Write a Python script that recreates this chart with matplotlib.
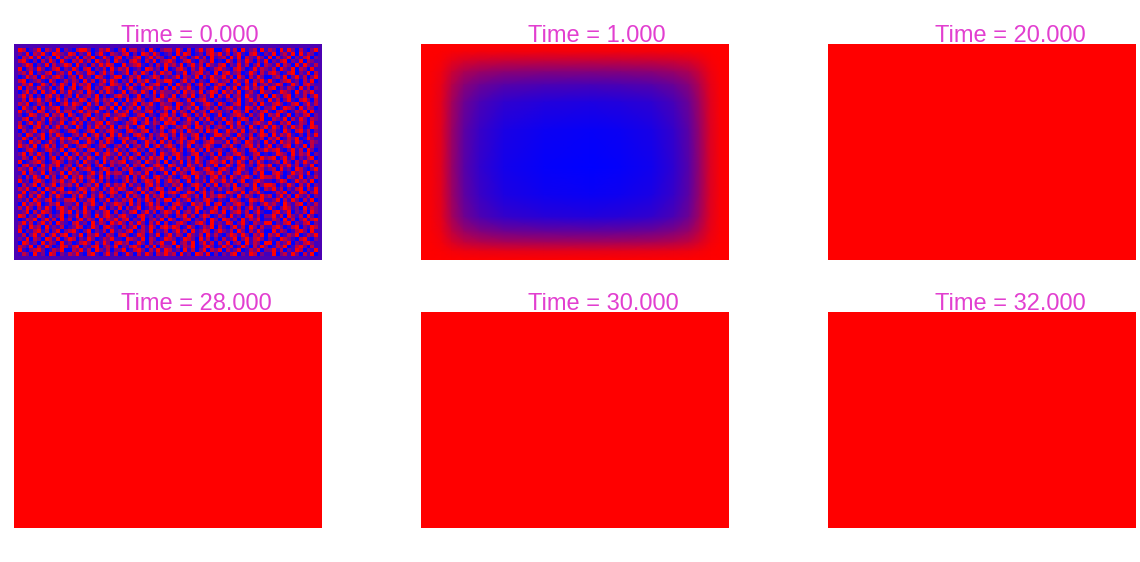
import numpy as np
import matplotlib
matplotlib.use('Agg')
import matplotlib.pyplot as plt
from matplotlib.colors import LinearSegmentedColormap

plt.rcParams['font.family'] = ['Liberation Sans', 'DejaVu Sans']

# snapshot times shown in the titles
times = [0.0, 1.0, 20.0, 28.0, 30.0, 32.0]

# t = 0: cell levels (0 = blue ... 4 = red), interior cells only
t0_rows = [
    "4301240321402 1034420132410 2403312041023 3142030241340 0241304123041 3204142031024",
    "2140324104321 4302140241032 1340204314201 2041430120342 4130241034102 1402314041320",
    "0324140230413 2140324014203 4021340241320 1403202413041 2304140321420 4031240213402",
    "3410203142041 0324130421304 2103420314023 4201341032140 1042031420314 0213402140321",
    "1243021403124 3041203142430 0412341020314 2314024130421 3402141302403 2140320414213",
    "4023142013402 1420340213041 3240120431204 0134203142013 4210342014132 1304214032041",
    "2314021340231 4032143024130 1240314203142 3021402341204 0341230142031 3420134021403",
    "0142304213420 2304120431024 4013240124302 1240321403142 2413042031420 0231402413024",
    "3401231042013 1320413024142 0214032410324 4102413021043 1230421403241 4102341203140",
    "1324014203142 0413240132043 2140314023410 3042130241302 4301240314023 1243014203421",
    "4032142130240 2401340213421 3024102341203 0413241032014 2031402413240 3402132041302",
    "0241304124031 4123042031420 1402314204132 2130423140243 0423140231042 2014320413241",
    "2413020341302 3041231402013 4230140213042 1402314023140 3140230421304 0421340213024",
    "1304241320413 0214302413240 2041342013421 4320140234102 1023140241320 4130241034203",
    "3240132041024 1432041302314 0312403241032 2043124013420 4201340213041 1342013402413",
    "0421304123402 2310421043140 4023140321024 3140231402313 0234120431402 2401432041320",
    "4132043021413 3024132410204 1240321340213 0413204123042 3120431402134 1034201324041",
    "2014312403240 4201340213412 3420134021034 1302420314201 4012342031240 3240140213402",
    "1340213042132 0241304213024 2103421403142 4230142031402 1413024302140 0321403142032",
    "3024142031240 2413021340421 0132402413204 3401231402130 2043140213421 4103240132041",
    "4210341302413 1042031423140 3241034012042 0132420431302 3204132041024 1420314230143",
    "0312402143201 3420134021342 1034213402130 2413042130424 0142314023140 2310420341302",
    "2043124031420 0231402413041 4120342031243 1304213402014 4231042130243 0413241020314",
    "1420314023142 4103241302430 2341024130214 0214302413041 1302413042130 3240132401421",
    "3104230142031 2340142031420 0412301423041 3024134102342 2140320431204 1304231420132",
    "4231402413024 1023420134102 3140231402413 4203140213420 0324102341302 4021340214031",
    "0134201342140 3412034120314 1203412043021 2413024130412 3102412034124 2341024130420",
    "2403142031204 0241320413421 4130240213042 1342013402130 4021342013401 0143204132402",
    "1320413024031 4203142014213 0314203142340 3042130421024 1234014203142 3402413021340",
    "4012342013420 2130421304132 3401230421304 0214031420243 2403142031420 1230420314213",
    "0341204132402 3024130241031 2140324013420 4312042130214 0142034120342 4013241302140",
    "3214023140213 1402341024302 0324102341241 2041324013420 3420143102431 2304120431024",
    "1403214032140 4231024130423 3104231402014 0413204321342 4120341203140 0342014231402",
    "2031420413024 0324132041302 1240314203421 3102430412034 1304213420143 3241032140213",
    "4120342013241 2413024130201 0241302431402 4230140213042 2413024013421 1024301423140",
    "0312403124032 3140231402413 2403120341302 1324013420314 0231402314024 4302142031402",
    "3241030421340 1024314203142 4310241302430 2043120413021 3120432014203 2413021340314",
    "1402314024132 4231402130243 0134204132041 3420143024130 1043214032410 0132402143024",
    "4203142031420 0314203142031 2041320413240 1203421304132 4312041320142 3024130421302",
    "2130421340213 3402134021402 1324031420314 4031240213420 2104320143241 1240314203140",
    "0413240132402 2140324103124 3204130241302 0342104231403 4021342031024 2310421340213",
    "3142031420342 1320412043021 4031240132430 2413021430124 0324130241302 4102431204132",
    "1240314320142 4031420213403 0213402413024 3140231402143 1402341302410 0341240213042",
    "4302142031240 2140320413421 3421034120213 1032413024301 3204120341302 2413042130420",
    "0132402413041 3024132041324 1340214023140 4201340213042 0431204132401 1320413024134",
    "2413024130421 0341204132042 4203142031403 0134201342041 2143024103214 4021340213402",
    "3104230412130 1243014203421 0312403142034 2430142013240 3102413042031 1342013402143",
    "4021341302402 3410240213041 2134023140213 0241304124302 4213042031420 0413201342041",
    "1302413024134 0214032410320 3420143021402 4132042130413 1024314203240 3240132401324",
    "2140320431402 4302142013241 1043214032014 3201432041302 0312402413420 2104321034102",
    "0431204132041 2013420314203 4230142031241 1402314024130 3140230413204 4031240213421",
    "3214031420143 1340213402314 0213420314032 2041324013420 1423014203142 0132401342031",
    "4102342013240 0324130421302 2401342031414 3120413024032 4031240132402 2413021430214",
    "1320412043021 3241034102413 0142031420324 2304120431402 0213402143021 1402314203140",
]
t0_border = 0.3   # the purple frame round the first snapshot

# t = 1: blueness profiles across the width and down the height
t1_x = [0, 0.03, 0.065, 0.1, 0.14, 0.19, 0.27, 0.4, 0.55, 0.65, 0.75, 0.82, 0.87, 0.905, 0.94, 0.97, 1]
t1_gx = [0, 0.03, 0.12, 0.4, 0.65, 0.8, 0.92, 0.98, 1.0, 0.98, 0.93, 0.82, 0.66, 0.42, 0.14, 0.03, 0]
t1_y = [0, 0.035, 0.08, 0.13, 0.19, 0.27, 0.4, 0.57, 0.7, 0.8, 0.87, 0.92, 0.96, 1]
t1_gy = [0, 0.05, 0.25, 0.5, 0.72, 0.88, 0.97, 1.0, 0.96, 0.86, 0.6, 0.35, 0.1, 0]

# t >= 20: field is uniform
late_value = 1.0

cmap = LinearSegmentedColormap.from_list('br', ['#0000ff', '#ff0000'])
title_color = '#e23fd0'

fig = plt.figure(figsize=(11.4, 5.62), dpi=100)
W, H = 1140, 562
lefts = [14, 421, 828]
tops = [44, 312]
pw, ph = 308, 216

axes = []
for r in range(2):
    for c in range(3):
        ax = fig.add_axes([lefts[c] / W, (H - tops[r] - ph) / H, pw / W, ph / H])
        ax.set_axis_off()
        axes.append(ax)

# first snapshot
grid0 = np.array([[int(ch) for ch in row.replace(' ', '')] for row in t0_rows]) / 4.0
grid0 = np.pad(grid0, 1, constant_values=t0_border)
axes[0].imshow(grid0, cmap=cmap, vmin=0, vmax=1, aspect='auto',
               interpolation='nearest', extent=[0, 1, 1, 0])

# second snapshot
X, Y = np.meshgrid(t1_x, t1_y)
u1 = 1 - np.outer(t1_gy, t1_gx)
axes[1].pcolormesh(X, Y, u1, cmap=cmap, vmin=0, vmax=1, shading='gouraud')
axes[1].set_xlim(0, 1)
axes[1].set_ylim(1, 0)

# the rest
for ax in axes[2:]:
    ax.imshow(np.full((2, 2), late_value), cmap=cmap, vmin=0, vmax=1,
              aspect='auto', extent=[0, 1, 1, 0])

for ax, t in zip(axes, times):
    ax.set_xlim(0, 1)
    ax.set_ylim(1, 0)
    ax.text(107 / pw, 1 + 2.5 / ph, f'Time = {t:.3f}', transform=ax.transAxes,
            ha='left', va='baseline', fontsize=17, color=title_color)

fig.savefig('out.png', dpi=100)
